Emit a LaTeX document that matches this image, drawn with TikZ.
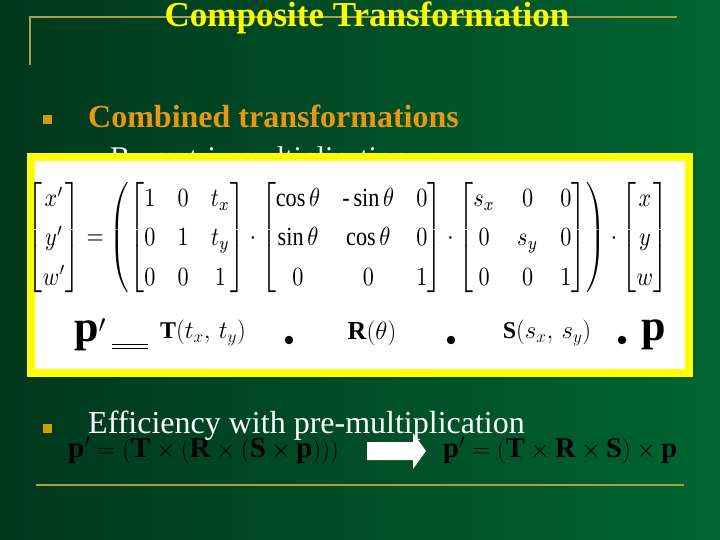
\documentclass[tikz,border=0pt]{standalone}
\usepackage{amsmath,graphicx}
\usepackage{fontspec}
\setmainfont{Liberation Serif}
\definecolor{bgl}{RGB}{0,55,28}
\definecolor{bgr}{RGB}{0,100,50}
\definecolor{gold}{RGB}{170,160,60}
\definecolor{ttl}{RGB}{255,255,0}
\definecolor{org}{RGB}{232,150,20}
\definecolor{bul}{RGB}{205,160,0}
\tikzset{txt/.style={inner sep=0pt,anchor=west},
  bx/.style={fill=bul,minimum size=9pt,inner sep=0pt}}
\begin{document}
\begin{tikzpicture}[x=1pt,y=-1pt]
\shade[left color=bgl,right color=bgr] (0,0) rectangle (720,540);
\useasboundingbox (0,0) rectangle (720,540);
\draw[gold,line width=1.5pt] (30,65) -- (30,17) -- (677,17);
\draw[gold,line width=2pt] (36,485) -- (684,485);
\node[ttl,font=\fontsize{35}{37}\selectfont\bfseries] (title) at (367,18) {Composite Transformation};
\node[bx] (b1) at (47,120) {};
\node[txt,org,font=\fontsize{32}{34}\selectfont\bfseries] (t1) at (88,116) {Combined transformations};
\node[draw=white,fill=green!40!black,minimum size=9pt,inner sep=0pt,line width=1pt] (b2) at (104,161) {};
\node[txt,white,font=\fontsize{30}{32}\selectfont] (t2) at (110,160) {By matrix multiplication};
\node[draw=ttl,line width=8pt,fill=white,minimum width=658pt,minimum height=216pt,inner sep=0pt] (box) at (360,265) {};
\node[inner sep=0pt] (eq) at (348,238) {\resizebox*{640pt}{118pt}{\renewcommand{\arraystretch}{1.25}$\begin{bmatrix}x'\\y'\\w'\end{bmatrix}=\left(\begin{bmatrix}1&0&t_x\\0&1&t_y\\0&0&1\end{bmatrix}\cdot\begin{bmatrix}\cos\theta&\text{-}\sin\theta&0\\ \sin\theta&\cos\theta&0\\0&0&1\end{bmatrix}\cdot\begin{bmatrix}s_x&0&0\\0&s_y&0\\0&0&1\end{bmatrix}\right)\cdot\begin{bmatrix}x\\y\\w\end{bmatrix}$}};
\node[font=\fontsize{44}{44}\selectfont\bfseries] (pp) at (90,335) {p$'$};
\draw[line width=0.8pt] (112,344) -- (148,344) (112,348) -- (148,348);
\node[font=\fontsize{24}{24}\selectfont] (T) at (203,333) {\textbf{T}$(t_x,\,t_y)$};
\node[circle,fill=black,inner sep=3pt] (d1) at (289,340) {};
\node[font=\fontsize{26}{26}\selectfont] (R) at (372,333) {\textbf{R}$(\theta)$};
\node[circle,fill=black,inner sep=3pt] (d2) at (451,340) {};
\node[font=\fontsize{24}{24}\selectfont] (S) at (547,333) {\textbf{S}$(s_x,\,s_y)$};
\node[circle,fill=black,inner sep=3pt] (d3) at (622,340) {};
\node[font=\fontsize{44}{44}\selectfont\bfseries] (p) at (654,335) {p};
\node[txt,font=\fontsize{29}{29}\selectfont] (f1) at (68,450) {$\mathbf{p}'=(\mathbf{T}\times(\mathbf{R}\times(\mathbf{S}\times\mathbf{p})))$};
\node[txt,font=\fontsize{28.5}{29}\selectfont] (f2) at (443,450) {$\mathbf{p}'=(\mathbf{T}\times\mathbf{R}\times\mathbf{S})\times\mathbf{p}$};
\fill[white] (367,442) -- (413,442) -- (413,433) -- (426,451) -- (413,469) -- (413,460) -- (367,460) -- cycle;
\node[bx] (b3) at (47,428) {};
\node[txt,white,font=\fontsize{32}{34}\selectfont] (t3) at (88,426) {Efficiency with pre-multiplication};
\end{tikzpicture}
\end{document}
